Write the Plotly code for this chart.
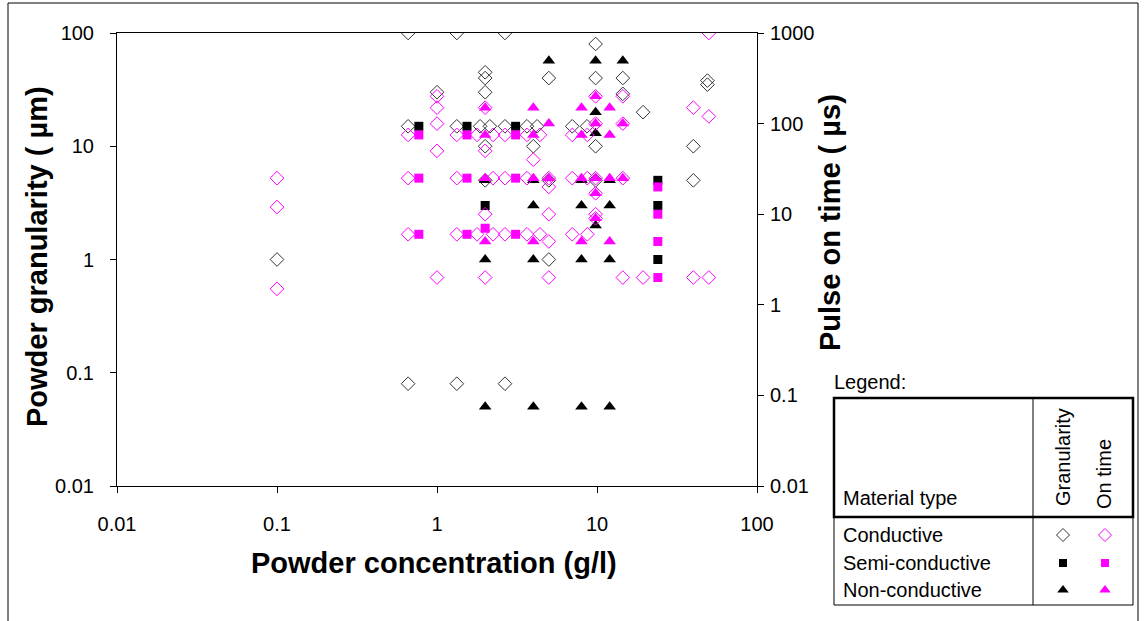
import plotly.graph_objects as go

W, H = 1146, 621

# ---------------- data ----------------
# Conductive – granularity (µm, left axis)
cond_gran_x = [0.1, 0.66, 1.33, 2.66, 0.66, 1.33, 2.66,
               0.66, 1.33, 1.86, 2.14, 2.66, 3.65, 4.22, 7, 8.66,
               1, 2, 2, 2, 2, 2, 4, 5, 5, 5,
               9.8, 9.8, 9.8, 9.8, 14.5, 14.5, 19.4, 40, 40, 49, 49]
cond_gran_y = [1, 100, 100, 100, 0.08, 0.08, 0.08,
               15, 15, 15, 15, 15, 15, 15, 15, 15,
               30, 45, 40, 30, 10, 5, 10, 40, 5, 1,
               80, 40, 10, 5, 40, 29, 20, 10, 5, 38, 35]
# Conductive – pulse on time (µs, right axis)
cond_time_x = [0.1, 0.1, 0.1, 0.66, 0.66, 0.66, 1, 1, 1, 1, 1,
               1.33, 1.33, 1.33, 1.78, 1.78, 2, 2, 2, 2,
               2.24, 2.24, 2.24, 2.66, 2.66, 2.66, 3.65, 3.65, 3.65, 4,
               4.4, 4.4, 5, 5, 5, 5, 5, 7, 7, 7, 8.7, 8.7, 8.7,
               9.8, 9.8, 9.8, 9.8, 9.8, 9.8, 14.5, 14.5, 14.5, 14.5,
               19.4, 40, 40, 50, 50, 50]
cond_time_y = [25, 12, 1.5, 75, 25, 6, 200, 150, 100, 50, 2,
               75, 25, 6, 75, 6, 150, 50, 10, 2,
               75, 25, 6, 75, 25, 6, 75, 25, 6, 40,
               75, 6, 25, 20, 10, 5, 2, 75, 25, 6, 75, 25, 6,
               200, 100, 25, 17, 10, 9, 200, 100, 25, 2,
               2, 150, 2, 1000, 120, 2]
# Semi-conductive
semi_gran_x = [0.77, 1.54, 3.1, 2, 24, 24, 24]
semi_gran_y = [15, 15, 15, 3, 5, 3, 1]
semi_time_x = [0.77, 0.77, 0.77, 1.54, 1.54, 1.54, 3.1, 3.1, 3.1, 2, 24, 24, 24, 24]
semi_time_y = [75, 25, 6, 75, 25, 6, 75, 25, 6, 7, 20, 10, 5, 2]
# Non-conductive
non_gran_x = [5, 9.8, 14.5, 9.8, 9.8, 2, 4, 8, 12, 4, 8, 12, 9.8,
              2, 4, 8, 12, 2, 4, 8, 12]
non_gran_y = [57, 57, 57, 20, 13, 5, 5, 5, 5, 3, 3, 3, 2,
              1, 1, 1, 1, 0.05, 0.05, 0.05, 0.05]
non_time_x = [2, 4, 8, 12, 2, 4, 8, 12, 5, 9.8, 14.5, 9.8,
              2, 4, 5, 8, 9.8, 12, 14.5, 9.8, 9.8, 2, 4, 8, 12]
non_time_y = [150, 150, 150, 150, 75, 75, 75, 75, 100, 100, 100, 200,
              25, 25, 25, 25, 25, 25, 25, 17, 9, 5, 5, 5, 5]

x_ticks = [0.01, 0.1, 1, 10, 100]
x_ticktext = ["0.01", "0.1", "1", "10", "100"]
yl_ticks = [0.01, 0.1, 1, 10, 100]
yl_ticktext = ["0.01", "0.1", "1", "10", "100"]
yr_ticks = [0.01, 0.1, 1, 10, 100, 1000]
yr_ticktext = ["0.01", "0.1", "1", "10", "100", "1000"]

legend_rows = ["Conductive", "Semi-conductive", "Non-conductive"]

# ---------------- styling ----------------
BLK = "#333333"
MAG = "#FF00FF"
FONT = "Arial, Liberation Sans, sans-serif"
DSZ, SSZ, TSZ = 10.5, 9, 11

# plot area in pixels
PL, PR, PT, PB = 117, 757, 33, 486

def px(x):
    return x / W

def py(y):
    return 1 - y / H

fig = go.Figure()

def add(xs, ys, sym, color, size, yaxis, filled):
    marker = dict(symbol=sym, size=size, color=color)
    if filled:
        marker["line"] = dict(width=0)
    else:
        marker["line"] = dict(width=1, color=color)
    fig.add_trace(go.Scatter(x=xs, y=ys, mode="markers", marker=marker,
                             xaxis="x", yaxis=yaxis, showlegend=False,
                             hoverinfo="x+y"))

add(cond_gran_x, cond_gran_y, "diamond-open", BLK, DSZ, "y", False)
add(cond_time_x, cond_time_y, "diamond-open", MAG, DSZ, "y2", False)
add(semi_gran_x, semi_gran_y, "square", "#000000", SSZ, "y", True)
add(semi_time_x, semi_time_y, "square", MAG, SSZ, "y2", True)
add(non_gran_x, non_gran_y, "triangle-up", "#000000", TSZ, "y", True)
add(non_time_x, non_time_y, "triangle-up", MAG, TSZ, "y2", True)

# legend symbols on an invisible pixel-space overlay axis
leg_sym = [("diamond-open", BLK, 10, False), ("square", "#000000", 8, True), ("triangle-up", "#000000", 10, True)]
leg_sym2 = [("diamond-open", MAG, 10, False), ("square", MAG, 8, True), ("triangle-up", MAG, 10, True)]
row_y = [535, 563, 590]
for i in range(3):
    for colx, (sym, col, sz, filled) in zip([1063, 1105], [leg_sym[i], leg_sym2[i]]):
        m = dict(symbol=sym, size=sz, color=col)
        m["line"] = dict(width=0) if filled else dict(width=1, color=col)
        fig.add_trace(go.Scatter(x=[colx], y=[row_y[i]], mode="markers", marker=m,
                                 xaxis="x3", yaxis="y3", showlegend=False, hoverinfo="skip"))

tickfont = dict(family=FONT, size=20, color="#000000")
fig.update_layout(
    template="none",
    width=W, height=H,
    margin=dict(l=0, r=0, t=0, b=0, pad=0, autoexpand=False),
    paper_bgcolor="white", plot_bgcolor="rgba(0,0,0,0)",
    font=dict(family=FONT, color="#000000"),
    showlegend=False,
    xaxis=dict(type="log", range=[-2, 2], domain=[px(PL), px(PR)], anchor="y",
               automargin=False,
               showline=True, linecolor="#000000", linewidth=1, mirror=True,
               ticks="outside", ticklen=6, tickcolor="#000000",
               tickvals=x_ticks, ticktext=x_ticktext, tickfont=tickfont,
               ticklabelstandoff=14,
               showgrid=False, zeroline=False),
    yaxis=dict(type="log", range=[-2, 2], domain=[py(PB), py(PT)], anchor="x",
               automargin=False,
               showline=True, linecolor="#000000", linewidth=1,
               ticks="outside", ticklen=6, tickcolor="#000000",
               tickvals=yl_ticks, ticktext=yl_ticktext, tickfont=tickfont,
               ticklabelstandoff=12,
               showgrid=False, zeroline=False),
    yaxis2=dict(type="log", range=[-2, 3], overlaying="y", side="right", anchor="x",
                automargin=False,
                showline=True, linecolor="#000000", linewidth=1,
                ticks="outside", ticklen=6, tickcolor="#000000",
                tickvals=yr_ticks, ticktext=yr_ticktext, tickfont=tickfont,
                ticklabelstandoff=2,
                showgrid=False, zeroline=False),
    xaxis3=dict(domain=[0, 1], range=[0, W], visible=False, anchor="y3",
                fixedrange=True, automargin=False),
    yaxis3=dict(domain=[0, 1], range=[H, 0], visible=False, anchor="x3",
                fixedrange=True, automargin=False),
)

ann = []
titlefont = dict(family=FONT, size=29, color="#000000", weight="bold")
ann.append(dict(text="Powder concentration (g/l)", x=px(434), y=py(563), xref="paper", yref="paper",
                showarrow=False, xanchor="center", yanchor="middle", font=titlefont))
ann.append(dict(text="Powder granularity ( µm)", x=px(37), y=py(257), xref="paper", yref="paper",
                showarrow=False, xanchor="center", yanchor="middle", textangle=-90, font=titlefont))
ann.append(dict(text="Pulse on time ( µs)", x=px(830), y=py(223), xref="paper", yref="paper",
                showarrow=False, xanchor="center", yanchor="middle", textangle=-90, font=titlefont))

lf = dict(family=FONT, size=20, color="#000000")
ann.append(dict(text="Legend:", x=px(832), y=py(382), xref="paper", yref="paper",
                showarrow=False, xanchor="left", yanchor="middle", font=lf))
ann.append(dict(text="Material type", x=px(841), y=py(498), xref="paper", yref="paper",
                showarrow=False, xanchor="left", yanchor="middle", font=lf))
ann.append(dict(text="Granularity", x=px(1063), y=py(457), xref="paper", yref="paper",
                showarrow=False, xanchor="center", yanchor="middle", textangle=-90, font=lf))
ann.append(dict(text="On time", x=px(1104), y=py(474), xref="paper", yref="paper",
                showarrow=False, xanchor="center", yanchor="middle", textangle=-90, font=lf))
for name, yy in zip(legend_rows, row_y):
    ann.append(dict(text=name, x=px(841), y=py(yy), xref="paper", yref="paper",
                    showarrow=False, xanchor="left", yanchor="middle", font=lf))
fig.update_layout(annotations=ann)

shapes = []
# outer frame
shapes.append(dict(type="rect", xref="paper", yref="paper", x0=px(8), x1=px(1138), y0=py(3), y1=py(640),
                   line=dict(color="#000000", width=1)))
# legend table
shapes.append(dict(type="rect", xref="paper", yref="paper", x0=px(834), x1=px(1133), y0=py(398), y1=py(517),
                   line=dict(color="#000000", width=2.5)))
shapes.append(dict(type="rect", xref="paper", yref="paper", x0=px(834), x1=px(1133), y0=py(517), y1=py(605),
                   line=dict(color="#000000", width=1)))
shapes.append(dict(type="line", xref="paper", yref="paper", x0=px(1033), x1=px(1033), y0=py(398), y1=py(605),
                   line=dict(color="#000000", width=1)))
fig.update_layout(shapes=shapes)

fig.write_html("out.html", config={"displayModeBar": False},
               post_script="document.body.style.margin='0px';document.body.style.overflow='hidden';")
